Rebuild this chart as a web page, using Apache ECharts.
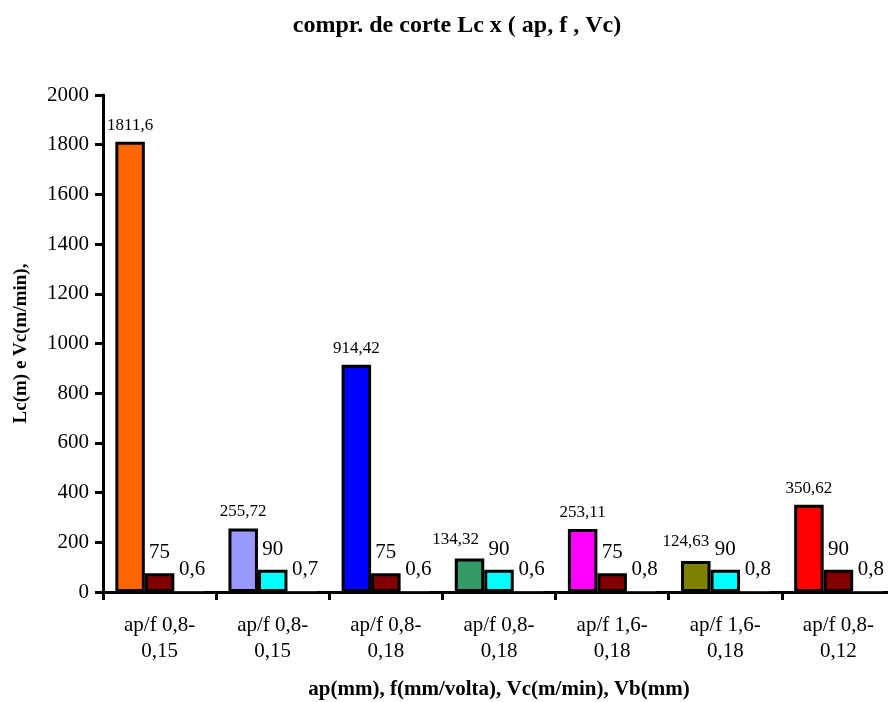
<!DOCTYPE html>
<html>
<head>
<meta charset="utf-8">
<script src="https://cdn.jsdelivr.net/npm/echarts@6/dist/echarts.min.js"></script>
<style>
  html, body { margin: 0; padding: 0; background: #ffffff; }
  #chart { width: 888px; height: 702px; }
</style>
</head>
<body>
<div id="chart"></div>
<script>
// Cutting length (Lc), cutting speed (Vc) and flank wear (Vb) per ap/f setting
const categories = [
  'ap/f 0,8-\n0,15', 'ap/f 0,8-\n0,15', 'ap/f 0,8-\n0,18', 'ap/f 0,8-\n0,18',
  'ap/f 1,6-\n0,18', 'ap/f 1,6-\n0,18', 'ap/f 0,8-\n0,12'
];
const lcValues = [1811.6, 255.72, 914.42, 134.32, 253.11, 124.63, 350.62];
const vcValues = [75, 90, 75, 90, 75, 90, 90];
const vbValues = [0.6, 0.7, 0.6, 0.6, 0.8, 0.8, 0.8];
const yTicks = { min: 0, max: 2000, interval: 200 };

const lcColors = ['#FF6600', '#9999FF', '#0000FF', '#339966', '#FF00FF', '#808000', '#FF0000'];
const vcColors = ['#800000', '#00FFFF', '#800000', '#00FFFF', '#800000', '#00FFFF', '#800000'];
// short Lc bars get their label nudged left so it clears the Vc label beside it
const lcLabelShift = { 3: [-14, -3], 5: [-10, -3] };

const serif = '"Liberation Serif", "Times New Roman", serif';
const commaNum = v => String(v).replace('.', ',');

const chart = echarts.init(document.getElementById('chart'), null, { renderer: 'canvas' });

const barBase = {
  type: 'bar',
  barGap: '0%',
  barWidth: 29.5,
  animation: false,
  itemStyle: { borderColor: '#000', borderWidth: 3 }
};

chart.setOption({
  backgroundColor: '#ffffff',
  title: {
    text: 'compr. de corte Lc x ( ap, f , Vc)',
    left: 452, top: 9, textAlign: 'center',
    textStyle: { fontFamily: serif, fontWeight: 'bold', fontSize: 24, color: '#000' }
  },
  grid: { left: 103, right: -7, top: 95, bottom: 110, containLabel: false, outerBoundsMode: 'none' },
  xAxis: {
    type: 'category',
    data: categories,
    name: 'ap(mm), f(mm/volta), Vc(m/min), Vb(mm)',
    nameLocation: 'middle',
    nameGap: 87,
    nameTextStyle: { fontFamily: serif, fontWeight: 'bold', fontSize: 21, color: '#000' },
    axisLine: { lineStyle: { color: '#000', width: 3 } },
    axisTick: { show: true, length: 8, lineStyle: { color: '#000', width: 3 } },
    axisLabel: { fontFamily: serif, fontSize: 21, color: '#000', margin: 20, lineHeight: 26, interval: 0 },
    splitLine: { show: false }
  },
  yAxis: {
    type: 'value',
    min: yTicks.min, max: yTicks.max, interval: yTicks.interval,
    name: 'Lc(m) e Vc(m/min),',
    nameLocation: 'middle',
    nameGap: 72,
    nameTextStyle: { fontFamily: serif, fontWeight: 'bold', fontSize: 19, color: '#000' },
    axisLine: { show: true, lineStyle: { color: '#000', width: 3 } },
    axisTick: { show: true, length: 8, lineStyle: { color: '#000', width: 3 } },
    axisLabel: { fontFamily: serif, fontSize: 21, color: '#000', margin: 14, formatter: v => String(v) },
    splitLine: { show: false }
  },
  series: [
    Object.assign({}, barBase, {
      name: 'Lc',
      data: lcValues.map((v, i) => {
        const item = { value: v, itemStyle: { color: lcColors[i] } };
        if (lcLabelShift[i]) item.label = { offset: lcLabelShift[i] };
        return item;
      }),
      label: {
        show: true, position: 'top', distance: 8,
        fontFamily: serif, fontSize: 17, color: '#000',
        formatter: p => commaNum(p.value)
      }
    }),
    Object.assign({}, barBase, {
      name: 'Vc',
      data: vcValues.map((v, i) => ({ value: v, itemStyle: { color: vcColors[i] } })),
      label: {
        show: true, position: 'top', distance: 10,
        fontFamily: serif, fontSize: 21, color: '#000',
        formatter: p => commaNum(p.value)
      }
    }),
    Object.assign({}, barBase, {
      name: 'Vb',
      data: vbValues.map(v => ({ value: v, itemStyle: { color: '#ffffff', borderWidth: 0 } })),
      label: {
        show: true, position: 'top', distance: 12, offset: [3, 0],
        fontFamily: serif, fontSize: 21, color: '#000',
        formatter: p => commaNum(p.value)
      }
    })
  ]
});
</script>
</body>
</html>
